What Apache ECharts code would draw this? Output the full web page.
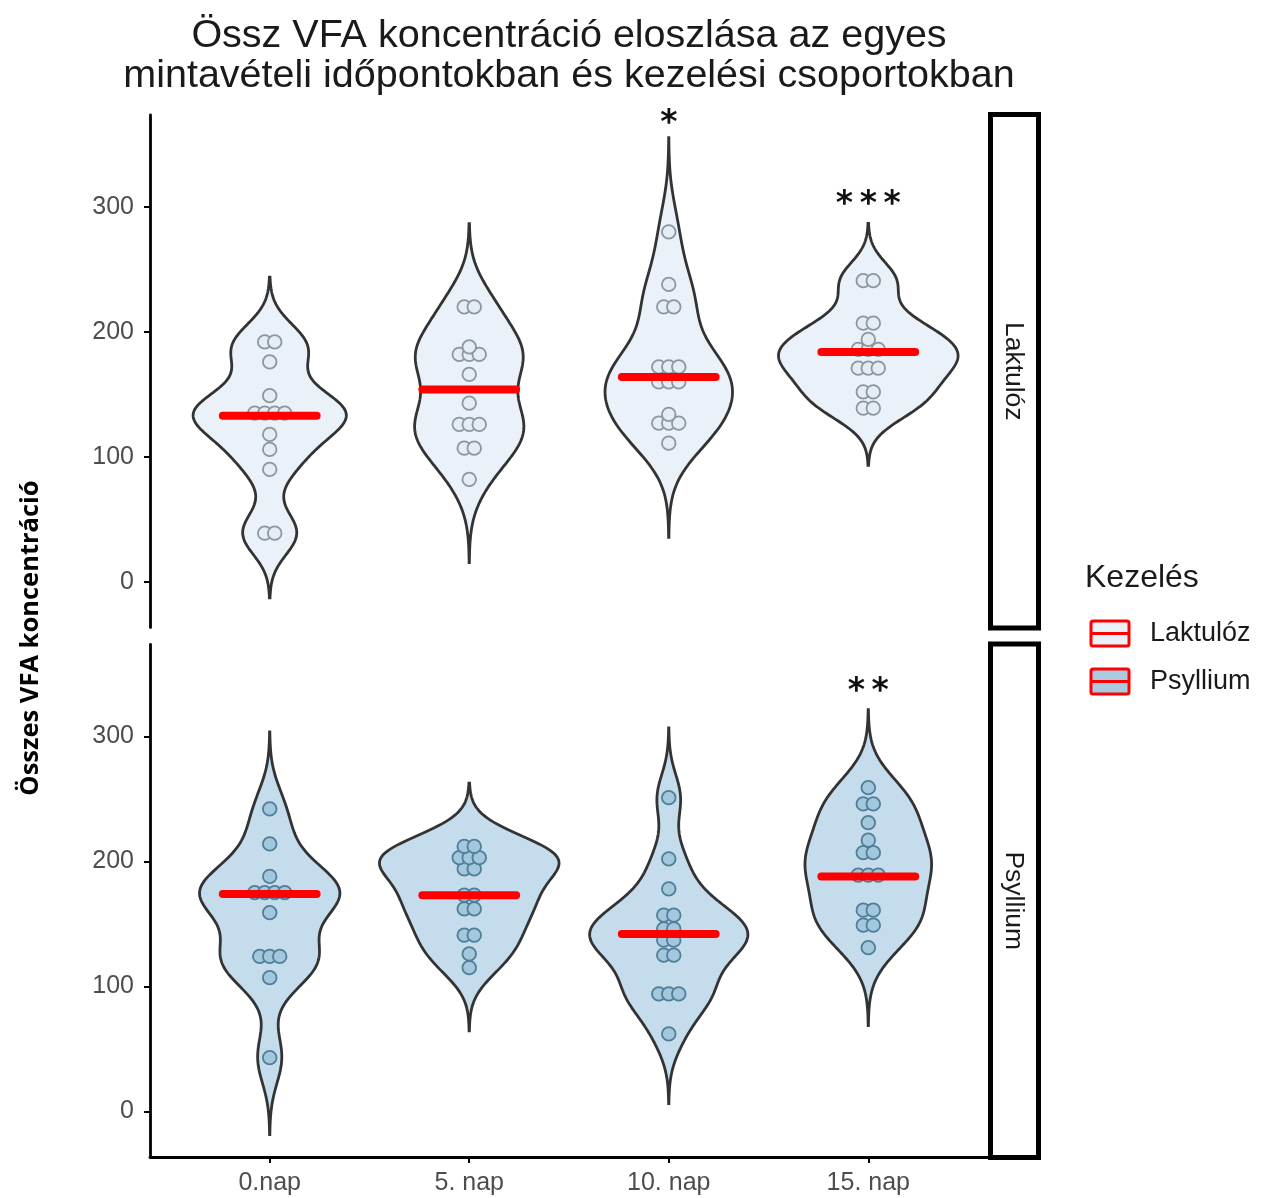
<!DOCTYPE html>
<html>
<head>
<meta charset="utf-8">
<script src="https://cdn.jsdelivr.net/npm/echarts@6/dist/echarts.min.js"></script>
<style>html,body{margin:0;padding:0;background:#fff}#c{width:1269px;height:1198px}</style>
</head>
<body>
<div id="c"></div>
<script>
// ---- data ----
const categories = ['0.nap', '5. nap', '10. nap', '15. nap'];
const yTicks = [0, 100, 200, 300];
const panels = ['Laktulóz', 'Psyllium'];

const lak0 = [192, 192, 176, 149, 135, 135, 135, 135, 118, 106, 90, 39, 39];
const lak5 = [220, 220, 188, 182, 182, 182, 166, 143, 126, 126, 126, 107, 107, 82];
const lak10 = [280, 238, 220, 220, 172, 172, 172, 160, 160, 160, 134, 127, 127, 127, 111];
const lak15 = [241, 241, 207, 207, 194, 186, 186, 186, 171, 171, 171, 152, 152, 139, 139];

const psy0 = [242, 214, 188, 175, 175, 175, 175, 159, 124, 124, 124, 107, 43];
const psy5 = [212, 212, 203, 203, 203, 194, 194, 173, 173, 162, 162, 141, 141, 126, 115];
const psy10 = [251, 202, 178, 157, 157, 146, 146, 137, 137, 125, 125, 94, 94, 94, 62];
const psy15 = [259, 246, 246, 231, 217, 207, 207, 189, 189, 189, 161, 161, 149, 149, 131];

const lakMedian = [133, 154, 164, 184];
const psyMedian = [174, 173, 142, 188];

const lakSig = ['', '', '*', '*\u2009*\u2009*'];
const lakSigY = [null, null, 366, 301];
const psySig = ['', '', '', '*\u2009*'];
const psySigY = [null, null, null, 335];

// ---- helpers ----
function q7(s, p) { const h = (s.length - 1) * p, lo = Math.floor(h), hi = Math.min(lo + 1, s.length - 1); return s[lo] + (h - lo) * (s[hi] - s[lo]); }
function bwNrd0(x) {
  const n = x.length, m = x.reduce((a, b) => a + b, 0) / n;
  const sd = Math.sqrt(x.reduce((a, b) => a + (b - m) * (b - m), 0) / (n - 1));
  const s = x.slice().sort((a, b) => a - b);
  const iqr = q7(s, 0.75) - q7(s, 0.25);
  let lo = Math.min(sd, iqr / 1.34); if (!lo) lo = sd || 1;
  return 0.9 * lo * Math.pow(n, -0.2);
}
function kde(x) {
  const bw = bwNrd0(x), n = x.length;
  const mn = Math.min(...x) - 3 * bw, mx = Math.max(...x) + 3 * bw;
  const pts = [], N = 200;
  for (let i = 0; i <= N; i++) {
    const y = mn + (mx - mn) * i / N;
    let d = 0; for (const v of x) { const z = (y - v) / bw; d += Math.exp(-0.5 * z * z); }
    pts.push([y, d / (n * bw * Math.sqrt(2 * Math.PI))]);
  }
  return pts;
}
function panelViolins(groups) {
  const ds = groups.map(kde);
  const mx = Math.max(...ds.map(d => Math.max(...d.map(p => p[1]))));
  return ds.map(d => d.map(p => [p[0], 0.45 * p[1] / mx]));
}
function dotRows(groups) {
  const out = [];
  groups.forEach((g, gi) => {
    const cnt = {}; g.forEach(v => cnt[v] = (cnt[v] || 0) + 1);
    Object.keys(cnt).forEach(k => { for (let i = 0; i < cnt[k]; i++) out.push([gi + 1, +k, i, cnt[k]]); });
  });
  return out;
}
const lakGroups = [lak0, lak5, lak10, lak15];
const psyGroups = [psy0, psy5, psy10, psy15];
const violins = [panelViolins(lakGroups), panelViolins(psyGroups)];

const styleSet = [
  { vfill: '#eaf1f8', dfill: '#e4ecf4', dstroke: '#8b979f' },
  { vfill: '#c5dcec', dfill: '#a3c7dd', dstroke: '#4f7e97' }
];

const GL = 150, GW = 838, GH = 512.5, GT = [115, 644.5];
const YMIN = -36.5, YMAX = 373.5;

function violinSeries(p) {
  return {
    type: 'custom', xAxisIndex: p, yAxisIndex: p, z: 1,
    data: categories.map((c, i) => [i + 1, 0]),
    encode: { x: 0, y: 1 },
    renderItem: function (params, api) {
      const cx = api.value(0), v = violins[p][params.dataIndex];
      const right = v.map(q => api.coord([cx + q[1], q[0]]));
      const left = v.slice().reverse().map(q => api.coord([cx - q[1], q[0]]));
      return { type: 'polygon', shape: { points: right.concat(left) },
        style: { fill: styleSet[p].vfill, stroke: '#333333', lineWidth: 2.8 } };
    }
  };
}
function dotSeries(p, groups) {
  return {
    type: 'custom', xAxisIndex: p, yAxisIndex: p, z: 2,
    data: dotRows(groups), encode: { x: 0, y: 1 },
    renderItem: function (params, api) {
      const c = api.coord([api.value(0), api.value(1)]);
      const off = (api.value(2) - (api.value(3) - 1) / 2) * 10;
      return { type: 'circle', shape: { cx: c[0] + off, cy: c[1], r: 6.8 },
        style: { fill: styleSet[p].dfill, stroke: styleSet[p].dstroke, lineWidth: 1.8 } };
    }
  };
}
function medianSeries(p, med) {
  return {
    type: 'custom', xAxisIndex: p, yAxisIndex: p, z: 3,
    data: med.map((m, i) => [i + 1, m]), encode: { x: 0, y: 1 },
    renderItem: function (params, api) {
      const a = api.coord([api.value(0) - 0.235, api.value(1)]);
      const b = api.coord([api.value(0) + 0.235, api.value(1)]);
      return { type: 'line', shape: { x1: a[0], y1: a[1], x2: b[0], y2: b[1] },
        style: { stroke: '#ff0000', lineWidth: 8, lineCap: 'round' } };
    }
  };
}
function sigSeries(p, txt, ys) {
  const data = []; txt.forEach((t, i) => { if (t) data.push([i + 1, ys[i], t]); });
  return {
    type: 'custom', xAxisIndex: p, yAxisIndex: p, z: 4, clip: false,
    data: data, encode: { x: 0, y: 1 },
    renderItem: function (params, api) {
      const c = api.coord([api.value(0), api.value(1)]);
      return { type: 'text', x: c[0], y: c[1],
        style: { text: data[params.dataIndex][2], fill: '#111', font: 'bold 33px "DejaVu Sans"', align: 'center', verticalAlign: 'middle' } };
    }
  };
}
function yAxis(p) {
  return {
    gridIndex: p, type: 'value', min: YMIN, max: YMAX,
    splitLine: { show: false },
    axisLine: { show: true, onZero: false, lineStyle: { color: '#000', width: 2.8 } },
    axisTick: { show: true, customValues: yTicks, length: 6, lineStyle: { color: '#000', width: 2 } },
    axisLabel: { customValues: yTicks, color: '#4d4d4d', fontSize: 25, margin: 16, fontFamily: 'Liberation Sans' }
  };
}

const chart = echarts.init(document.getElementById('c'), null, { renderer: 'canvas' });
const keyY = [621, 669];
const option = {
  animation: false,
  backgroundColor: '#ffffff',
  grid: [
    { left: GL, top: GT[0], width: GW, height: GH },
    { left: GL, top: GT[1], width: GW, height: GH }
  ],
  xAxis: [
    { gridIndex: 0, type: 'value', min: 0.4, max: 4.6, show: false, splitLine: { show: false } },
    { gridIndex: 1, type: 'value', min: 0.4, max: 4.6, splitLine: { show: false },
      axisLine: { show: true, onZero: false, lineStyle: { color: '#000', width: 2.8 } },
      axisTick: { show: true, customValues: [1, 2, 3, 4], length: 6, lineStyle: { color: '#000', width: 2 } },
      axisLabel: { customValues: [1, 2, 3, 4], formatter: v => categories[Math.round(v) - 1], color: '#4d4d4d', fontSize: 25, margin: 14, fontFamily: 'Liberation Sans' } }
  ],
  yAxis: [yAxis(0), yAxis(1)],
  series: [
    violinSeries(0), dotSeries(0, lakGroups), medianSeries(0, lakMedian), sigSeries(0, lakSig, lakSigY),
    violinSeries(1), dotSeries(1, psyGroups), medianSeries(1, psyMedian), sigSeries(1, psySig, psySigY)
  ],
  graphic: [
    { type: 'text', x: 569, y: 36, style: { text: 'Össz VFA koncentráció eloszlása az egyes', font: '39.5px "Liberation Sans"', fill: '#1a1a1a', align: 'center', verticalAlign: 'middle' } },
    { type: 'text', x: 569, y: 76, style: { text: 'mintavételi időpontokban és kezelési csoportokban', font: '39.5px "Liberation Sans"', fill: '#1a1a1a', align: 'center', verticalAlign: 'middle' } },
    { type: 'text', x: 31, y: 638, rotation: Math.PI / 2, style: { text: 'Összes VFA koncentráció', font: 'bold 25.5px "Open Sans"', fill: '#000', align: 'center', verticalAlign: 'middle' } },
    { type: 'rect', shape: { x: 990.5, y: GT[0] - 0.5, width: 48, height: GH + 1 }, style: { fill: '#fff', stroke: '#000', lineWidth: 5 } },
    { type: 'rect', shape: { x: 990.5, y: GT[1] - 0.5, width: 48, height: GH + 1 }, style: { fill: '#fff', stroke: '#000', lineWidth: 5 } },
    { type: 'text', x: 1013, y: GT[0] + GH / 2, rotation: -Math.PI / 2, style: { text: panels[0], font: '26.5px "Liberation Sans"', fill: '#1a1a1a', align: 'center', verticalAlign: 'middle' } },
    { type: 'text', x: 1013, y: GT[1] + GH / 2, rotation: -Math.PI / 2, style: { text: panels[1], font: '26.5px "Liberation Sans"', fill: '#1a1a1a', align: 'center', verticalAlign: 'middle' } },
    { type: 'text', x: 1085, y: 578, style: { text: 'Kezelés', font: '32px "Liberation Sans"', fill: '#1a1a1a', align: 'left', verticalAlign: 'middle' } },
    { type: 'rect', shape: { x: 1091, y: keyY[0], width: 38, height: 25, r: 2 }, style: { fill: styleSet[0].vfill, stroke: '#ff0000', lineWidth: 3 } },
    { type: 'line', shape: { x1: 1091, y1: keyY[0] + 12.5, x2: 1129, y2: keyY[0] + 12.5 }, style: { stroke: '#ff0000', lineWidth: 3 } },
    { type: 'text', x: 1150, y: keyY[0] + 13, style: { text: panels[0], font: '27px "Liberation Sans"', fill: '#1a1a1a', align: 'left', verticalAlign: 'middle' } },
    { type: 'rect', shape: { x: 1091, y: keyY[1], width: 38, height: 25, r: 2 }, style: { fill: '#a9cbe0', stroke: '#ff0000', lineWidth: 3 } },
    { type: 'line', shape: { x1: 1091, y1: keyY[1] + 12.5, x2: 1129, y2: keyY[1] + 12.5 }, style: { stroke: '#ff0000', lineWidth: 3 } },
    { type: 'text', x: 1150, y: keyY[1] + 13, style: { text: panels[1], font: '27px "Liberation Sans"', fill: '#1a1a1a', align: 'left', verticalAlign: 'middle' } }
  ]
};
chart.setOption(option);
</script>
</body>
</html>
